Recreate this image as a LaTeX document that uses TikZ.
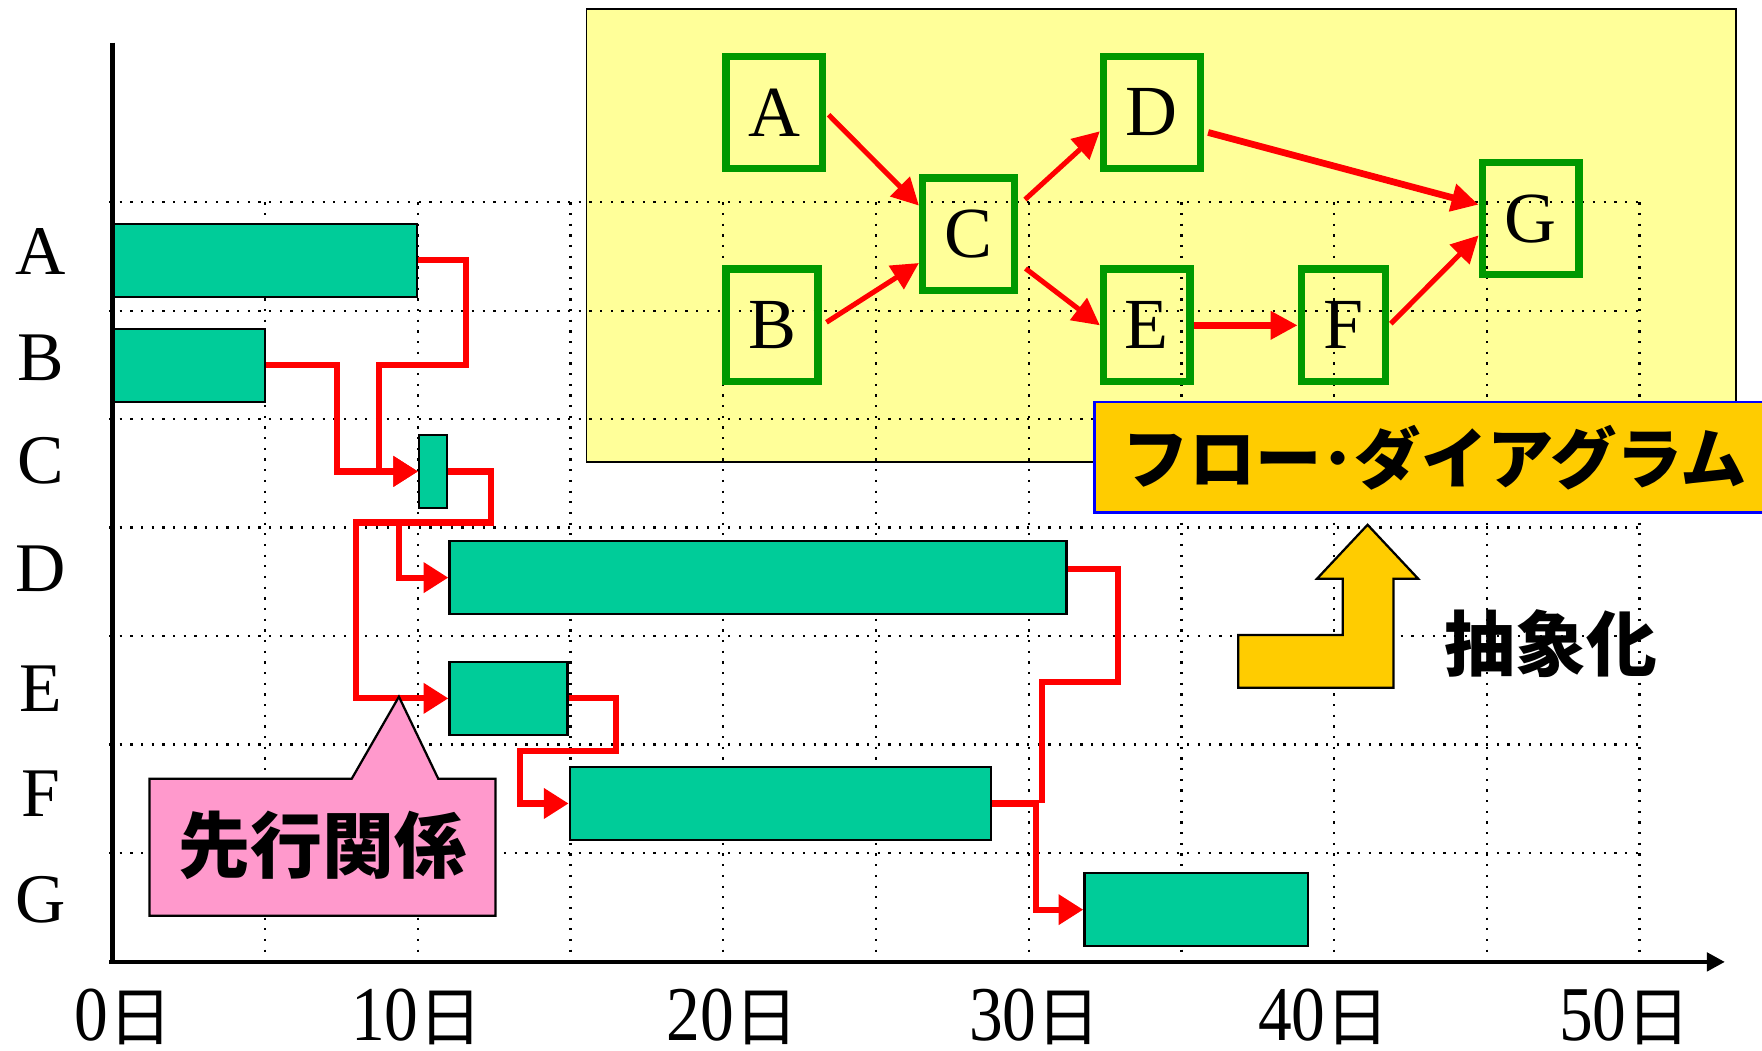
\documentclass[tikz,border=0pt]{standalone}
\usepackage{fontspec}
\usepackage{tikz}
\usetikzlibrary{arrows.meta,positioning}
\setmainfont{Liberation Serif}
\newfontfamily\jp{Noto Sans CJK JP}
\definecolor{barfill}{HTML}{00CC99}
\definecolor{flowbg}{HTML}{FFFF99}
\definecolor{flowgreen}{HTML}{009900}
\definecolor{labelorange}{HTML}{FFCC00}
\definecolor{calloutpink}{HTML}{FF99CC}

\begin{document}
\begin{tikzpicture}[x=1pt,y=-1pt,
  bar/.style={draw,line width=2pt,fill=barfill,minimum height=65pt,inner sep=0pt},
  link/.style={draw=red,line width=5.5pt,-{Triangle[length=22pt,width=26pt]}},
  linkplain/.style={draw=red,line width=5.5pt},
  grid line/.style={line width=2pt,dash pattern=on 2pt off 7.5pt},
  task/.style={font=\fontsize{62}{62}\selectfont,inner sep=0pt},
  day/.style={anchor=base,inner sep=0pt},
  jptext/.style={font=\jp\bfseries\fontsize{#1}{#1}\selectfont,inner sep=0pt},
  flownode/.style={draw=flowgreen,line width=6.5pt,minimum width=86pt,minimum height=100pt,inner sep=0pt,font=\fontsize{64}{64}\selectfont},
  flow/.style={color=red,line width=4.5pt,-{Triangle[length=24pt,width=24pt]}}]
\useasboundingbox (0,0) rectangle (1568,935);

\draw[line width=1.5pt,fill=flowbg] (522,8) rectangle (1545,411);

\foreach \i in {1,...,10}
  \draw[grid line] (100+135.9*\i,180) -- (100+135.9*\i,856);
\foreach \j in {0,...,6}
  \draw[grid line] (97,180+96.5*\j) -- (1460,180+96.5*\j);

\draw[line width=4pt] (100,38) -- (100,858);
\draw[line width=4pt,-{Triangle[length=16pt,width=16pt]}] (97,856) -- (1535,856);

\node[bar,minimum width=270pt] (barA) at (236,231.5) {};
\node[bar,minimum width=135pt] (barB) at (168.5,325) {};
\node[bar,minimum width=25pt] (barC) at (385.5,419.5) {};
\node[bar,minimum width=549pt] (barD) at (674.5,514) {};
\node[bar,minimum width=105pt] (barE) at (452.5,621.5) {};
\node[bar,minimum width=375pt] (barF) at (694.5,715) {};
\node[bar,minimum width=199pt] (barG) at (1064.5,809.5) {};

\coordinate (splitCD) at (355,465);
\coordinate (joinFG) at (922,715);
\draw[link] (barA.east) -- ++(43,0) -- ++(0,93.5) -- ++(-78,0) |- (barC.west);
\draw[link] (barB.east) -- ++(63,0) |- (barC.west);
\draw[link] (barC.east) -- ++(38,0) |- (317,465) |- (barE.west);
\draw[link] (splitCD) |- (barD.west);
\draw[link] (barE.east) -- ++(42,0) |- (463,668) |- (barF.west);
\draw[linkplain] ([yshift=8pt]barD.east) -- ++(45,0) |- (927,607) -- (927,715);
\draw[link] (barF.east) -- (joinFG) |- (barG.west);

\draw[line width=2pt,fill=calloutpink] (133,693) -- (313,693) -- (355,620) -- (390,693)
  -- (441,693) -- (441,815) -- (133,815) -- cycle;
\node[jptext=64] (prec) at (287,752) {先行関係};

\foreach \t/\y in {A/224,B/318,C/410,D/506,E/613,F/706,G/801}
  \node[task] (lab\t) at (36,\y) {\t};
\foreach \d/\x in {0/110,10/371,20/652,30/921,40/1178,50/1446}
  \node[day] (day\d) at (\x,926)
    {\scalebox{1}[1.15]{\fontsize{60}{60}\selectfont\d}{\jp\fontsize{57}{57}\selectfont 日}};

\node[flownode] (fA) at (689,100) {A};
\node[flownode,minimum width=82pt] (fB) at (687,289.5) {B};
\node[flownode,minimum width=82pt] (fC) at (862,208.5) {C};
\node[flownode] (fD) at (1025,100) {D};
\node[flownode,minimum width=77pt] (fE) at (1020.5,289.5) {E};
\node[flownode,minimum width=75pt] (fF) at (1195.5,289.5) {F};
\node[flownode] (fG) at (1362,194.5) {G};

\path[flow]
(fA.east) edge [shorten <=3pt] (fC.150)
(fB.east) edge [shorten <=5pt] (fC.210)
(fC.30) edge [shorten <=8pt] (fD.200)
(fC.-30) edge [shorten <=8pt] (fE.west)
(fD.-20) edge [line width=6pt,shorten <=4pt] (fG.165)
(fE.east) edge [line width=6pt] (fF.west)
(fF.east) edge [shorten <=2pt] (fG.198);

\node[draw=blue,line width=2pt,fill=labelorange,minimum width=606pt,minimum height=98pt,
  jptext=59] (flowlabel) at (1277,407) {フロー･ダイアグラム};

\draw[line width=2pt,fill=labelorange] (1102,565) -- (1195,565) -- (1195,515) -- (1172,515)
  -- (1217,467) -- (1262,515) -- (1240,515) -- (1240,612) -- (1102,612) -- cycle;
\node[jptext=63] (abstr) at (1380,573) {抽象化};
\end{tikzpicture}
\end{document}
